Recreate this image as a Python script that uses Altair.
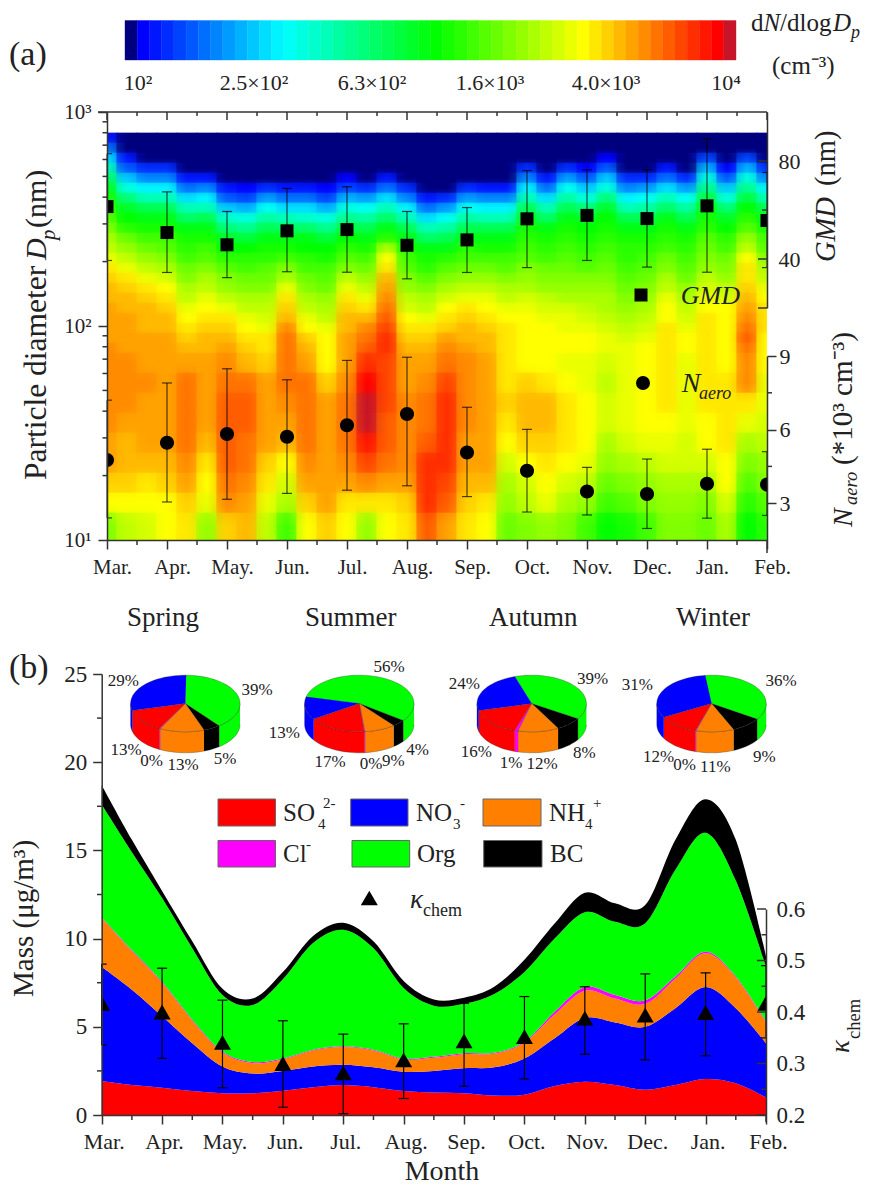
import altair as alt
import pandas as pd
import numpy as np

FONT = "Liberation Serif"
INK = "#222222"
O = 8  # page margin
W, H = 856, 1179

months = ["Mar.", "Apr.", "May.", "Jun.", "Jul.", "Aug.", "Sep.", "Oct.", "Nov.", "Dec.", "Jan.", "Feb."]
month_idx = list(range(12))

# Panel (a): GMD (nm) and Naero (10^3 cm-3) with error limits
gmd = [61.4, 50.8, 45.8, 51.5, 52.0, 45.6, 47.8, 56.4, 57.8, 56.5, 61.7, 55.7]
gmd_hi = [83.0, 67.4, 59.4, 68.8, 69.5, 59.4, 61.0, 76.1, 76.4, 76.5, 89.1, 75.3]
gmd_lo = [39.4, 34.5, 32.4, 34.8, 34.6, 31.9, 34.5, 36.5, 39.4, 36.7, 34.6, 36.5]
naero = [4.76, 5.46, 5.82, 5.71, 6.18, 6.64, 5.07, 4.32, 3.48, 3.37, 3.79, 3.76]
naero_hi = [7.2, 7.90, 8.48, 8.03, 8.82, 8.95, 6.91, 6.01, 4.46, 4.80, 5.20, 5.1]
naero_lo = [2.4, 3.05, 3.16, 3.40, 3.53, 3.71, 3.27, 2.64, 2.52, 1.97, 2.39, 2.5]

# Panel (a) contour: colour level (0-49) per column (every third of a month), top to bottom
heat = [
 [2,6,11,16,20,24,26,27,29,31,33,34,36,38,39,40,40,41,41,41,41,42,42,42,42,42,41,41,39,37,31],
 [0,0,2,5,10,14,19,23,25,27,30,32,34,36,38,39,40,40,41,41,41,41,42,42,42,41,40,40,39,37,34],
 [0,0,0,3,7,12,16,21,24,26,28,30,32,34,36,38,39,40,40,40,41,41,41,42,41,41,41,40,38,37,35],
 [0,0,0,3,7,12,16,21,24,26,28,29,31,33,35,37,38,39,40,40,41,41,41,41,41,41,41,40,39,37,37],
 [0,0,0,0,2,6,11,16,20,24,26,27,28,30,31,33,34,36,37,38,39,40,41,43,43,43,43,42,41,39,38],
 [0,0,0,0,2,7,12,16,21,24,26,28,29,31,33,34,36,37,38,39,40,40,41,41,41,41,40,38,37,36,32],
 [0,0,0,0,0,2,5,10,15,19,23,25,27,29,31,32,34,36,38,39,40,41,42,43,44,44,44,44,43,42,39],
 [0,0,0,0,0,1,4,9,14,18,22,25,27,28,30,31,33,34,36,37,38,39,40,43,44,44,43,43,42,41,40],
 [0,0,0,0,0,3,8,13,17,21,24,26,27,29,30,31,33,34,35,36,38,38,39,41,41,41,41,39,38,36,34],
 [0,0,0,0,0,2,6,11,16,20,24,26,28,31,33,36,38,39,40,42,43,43,43,43,42,41,40,37,35,33,28],
 [0,0,0,0,0,2,6,11,15,20,24,25,27,28,30,31,33,34,36,37,39,40,41,43,43,43,43,42,41,39,37],
 [0,0,0,0,0,1,4,9,14,18,22,25,26,28,29,30,32,33,34,36,37,37,37,39,41,41,41,41,41,41,39],
 [0,0,0,0,1,4,9,14,18,22,25,27,29,31,34,36,38,39,40,40,41,41,41,42,43,43,43,42,41,38,37],
 [0,0,0,0,0,3,8,13,17,21,24,26,28,30,32,34,36,38,40,42,43,44,46,48,49,49,47,45,42,38,32],
 [0,0,0,0,2,6,11,16,20,24,27,33,37,38,40,41,42,43,44,45,46,46,45,45,45,44,44,43,41,38,37],
 [0,0,0,0,0,3,7,12,16,21,24,26,28,29,31,32,34,35,37,38,39,40,41,41,42,42,42,42,41,39,38],
 [0,0,0,0,0,0,2,6,11,16,20,24,26,27,29,31,33,34,36,38,39,40,41,42,43,43,44,46,46,46,44],
 [0,0,0,0,0,0,3,8,13,17,21,24,27,29,31,33,35,37,38,39,41,42,43,45,46,46,46,46,45,44,41],
 [0,0,0,0,0,3,8,13,17,21,24,27,28,30,32,34,36,38,39,40,40,41,42,42,42,42,41,41,40,39,38],
 [0,0,0,0,0,2,7,12,16,21,24,26,28,30,32,34,36,37,38,39,40,40,41,41,41,41,41,41,40,38,37],
 [0,0,0,0,0,2,7,12,16,21,24,26,28,29,31,33,34,36,37,38,38,38,38,38,39,38,37,35,33,32,30],
 [0,0,0,3,7,12,16,21,24,26,27,28,29,31,32,33,35,36,37,37,37,37,37,39,40,40,39,37,35,34,31],
 [0,0,0,0,2,6,11,16,20,24,26,27,28,30,31,32,34,35,36,37,37,37,37,38,40,40,39,38,37,36,32],
 [0,0,0,3,8,13,17,21,24,26,27,28,29,30,31,32,33,35,36,36,37,37,36,37,38,38,38,37,35,33,31],
 [0,0,0,1,5,10,14,19,23,25,26,27,28,29,31,32,33,34,35,36,37,37,36,36,37,37,37,36,34,32,28],
 [0,0,1,5,10,14,19,23,25,26,27,28,29,30,31,32,33,33,34,35,36,36,35,34,35,35,33,32,30,28,25],
 [0,0,0,0,3,7,12,16,21,24,26,27,27,28,29,30,31,32,33,34,35,36,36,36,36,36,35,33,31,29,26],
 [0,0,0,0,3,8,13,17,21,24,26,27,28,29,30,31,32,33,34,35,36,37,37,37,37,37,36,34,32,31,28],
 [0,0,0,2,6,11,16,20,24,26,27,28,30,31,33,34,36,37,37,38,38,38,38,38,38,37,36,35,33,32,31],
 [0,0,0,0,3,8,13,17,21,24,26,27,28,29,30,32,33,34,35,36,37,37,36,36,36,36,35,35,33,32,31],
 [0,0,4,9,14,18,22,25,26,27,29,30,31,32,34,35,36,37,38,38,38,38,38,38,38,37,37,35,33,31,30],
 [0,0,0,1,5,10,14,19,23,25,27,28,30,31,32,34,35,37,37,37,37,37,37,38,38,38,38,37,37,35,33],
 [0,0,4,9,14,18,22,25,27,29,32,34,37,38,38,39,40,41,42,43,44,43,42,42,38,36,33,31,29,27,25],
 [0,0,0,3,7,12,16,21,24,26,28,29,31,33,34,36,37,38,38,38,37,37,37,36,36,35,34,32,31,29,27],
]
# Row edges of the contour (nm): 22 fine rows, then coarser ones
row_edges = [800 * 10 ** (-k * 10 / 214) for k in range(23)] + [800 * 10 ** (-(220 + 20 * k) / 214) for k in range(1, 9)] + [10]

# Colour scale
levels = list(range(50))
anchors = [(1, (0, 0, 255)), (12.5, (0, 255, 255)), (25, (0, 255, 0)), (37, (255, 255, 0)), (48, (255, 0, 0))]
def level_hex(l):
    if l == 0:
        return "#00007f"
    if l == 49:
        return "#c81428"
    for (a, ca), (b, cb) in zip(anchors, anchors[1:]):
        if a <= l <= b:
            t = (l - a) / (b - a)
            c = [round(ca[i] + (cb[i] - ca[i]) * t) for i in range(3)]
            return "#%02x%02x%02x" % tuple(c)
palette = [level_hex(l) for l in levels]
cbar_labels = ["10²", "2.5×10²", "6.3×10²", "1.6×10³", "4.0×10³", "10⁴"]
cbar_label_x = [138, 254, 372, 490, 606, 726]

# Panel (b): cumulative mass boundaries, every half month (ug/m3)
half_months = [i / 2 for i in range(23)]
so4_top = [1.93, 1.7, 1.55, 1.36, 1.23, 1.23, 1.38, 1.58, 1.7, 1.58, 1.36, 1.27, 1.23, 1.1, 1.15, 1.64, 1.89, 1.7, 1.43, 1.7, 2.04, 1.8, 1.0]
no3_top = [8.4, 7.1, 5.6, 4.07, 2.75, 2.35, 2.5, 2.75, 2.85, 2.7, 2.45, 2.5, 2.65, 2.7, 3.2, 4.35, 5.5, 5.25, 5.0, 6.05, 7.25, 6.05, 4.07]
cl_top = [11.2, 9.35, 7.55, 5.4, 3.6, 3.0, 3.2, 3.7, 3.9, 3.7, 3.2, 3.3, 3.5, 3.53, 4.15, 5.85, 7.25, 6.8, 6.5, 7.85, 9.25, 7.85, 5.3]
nh4_top = [11.15, 9.3, 7.5, 5.35, 3.55, 2.95, 3.15, 3.65, 3.85, 3.65, 3.15, 3.25, 3.45, 3.48, 4.1, 5.7, 7.05, 6.6, 6.3, 7.73, 9.17, 7.8, 5.25]
org_top = [17.6, 14.9, 12.3, 9.45, 6.8, 6.24, 7.7, 9.75, 10.5, 9.45, 7.2, 6.2, 6.3, 6.86, 8.1, 10.0, 11.5, 10.95, 10.87, 13.9, 16.0, 13.3, 8.4]
bc_top = [18.7, 15.6, 12.7, 9.85, 7.15, 6.6, 8.1, 10.15, 10.9, 9.85, 7.6, 6.55, 6.65, 7.27, 8.8, 10.85, 12.6, 12.0, 11.9, 15.6, 17.9, 15.6, 9.0]

kappa = [.417, .40, .341, .30, .282, .307, .344, .352, .388, .394, .399, .417]
kappa_hi = [.493, .485, .423, .383, .357, .377, .417, .43, .449, .474, .476, .49]
kappa_lo = [.336, .31, .253, .215, .2025, .232, .256, .27, .318, .307, .315, .35]

# Pies: Org, BC, NH4, Cl, SO4, NO3 (%), clockwise from the given start angle
species = ["Org", "BC", "NH4", "Cl", "SO4", "NO3"]
species_color = {"SO4": "#ff0000", "NO3": "#0000ff", "NH4": "#ff8000", "Cl": "#ff00ff", "Org": "#00ff00", "BC": "#000000"}
pie_values = [[39, 5, 13, 0, 13, 29], [56, 4, 9, 0, 17, 13], [39, 8, 12, 1, 16, 24], [36, 9, 11, 0, 12, 31]]
pie_start = [0, -77, -18, -7.4]
pie_cx = [185.3, 359.3, 531.7, 711.5]
pie_cy, pie_rx, pie_ry, pie_depth = 703.5, 54.7, 28.3, 21
pie_text = ["29%", "39%", "13%", "0%", "13%", "5%", "56%", "13%", "17%", "0%", "9%", "4%",
            "24%", "39%", "16%", "1%", "12%", "8%", "31%", "36%", "12%", "0%", "11%", "9%"]
pie_text_x = [123.3, 257, 126, 151.7, 183, 225, 389, 284.3, 330, 371, 393.3, 417.7,
              464.3, 592.7, 476.3, 511, 542, 584.3, 637.3, 781, 658.7, 684.7, 715.3, 764.3]
pie_text_y = [680.7, 690, 750, 760.7, 765, 759.3, 667.3, 733.3, 762.3, 763.7, 760.7, 750,
              684.3, 679.3, 751.7, 762.7, 764, 753.3, 685, 681.3, 757.3, 765, 766.7, 757.3]

# ---------------- scales ----------------
xa = alt.Scale(domain=[0, 11], range=[107 - O, 767 - O], nice=False, zero=False)
ya = alt.Scale(type="log", domain=[10, 1000], range=[540 - O, 112 - O], nice=False)
y_gmd = alt.Scale(domain=[20, 100], range=[308 - O, 112 - O], nice=False, zero=False)
y_nae = alt.Scale(domain=[1.5, 9], range=[540 - O, 356 - O], nice=False, zero=False)
xb = alt.Scale(domain=[0, 11], range=[101.7 - O, 766 - O], nice=False, zero=False)
yb = alt.Scale(domain=[0, 25], range=[1115 - O, 674 - O], nice=False, zero=False)
y_kap = alt.Scale(domain=[0.2, 0.6], range=[1115 - O, 909 - O], nice=False, zero=False)
xc = alt.Scale(type="log", domain=[100, 10000], range=[125 - O, 736 - O], nice=False)
level_scale = alt.Scale(domain=levels, range=palette)
id_x = alt.Scale(domain=[0, W], range=[0, W], nice=False, zero=False)
id_y = alt.Scale(domain=[0, H], range=[0, H], nice=False, zero=False)

AX = dict(labelFont=FONT, labelColor=INK, domainColor="#333333", domainWidth=1.5,
          tickColor="#333333", tickWidth=1.5, grid=False, title=None, zindex=1,
          labelFlush=False, labelOverlap=False, labelBound=False)
month_expr = "['" + "','".join(months) + "'][datum.value]"

layers = []

def txt(s, x, y, size=22, style="normal", angle=0, align="left", baseline="alphabetic"):
    return alt.Chart(pd.DataFrame({"t": [s]})).mark_text(
        font=FONT, fontSize=size, fontStyle=style, angle=angle, align=align, baseline=baseline, color=INK
    ).encode(x=alt.value(x - O), y=alt.value(y - O), text="t:N")

def hticks(vals, scale, x0, x1):
    return alt.Chart(pd.DataFrame({"v": vals})).mark_rule(color="#333333", strokeWidth=1.5).encode(
        y=alt.Y("v:Q", scale=scale, axis=None), x=alt.value(x0 - O), x2=alt.value(x1 - O))

def vticks(vals, scale, y0, y1):
    return alt.Chart(pd.DataFrame({"v": vals})).mark_rule(color="#333333", strokeWidth=1.5).encode(
        x=alt.X("v:Q", scale=scale, axis=None), y=alt.value(y0 - O), y2=alt.value(y1 - O))

def line_px(x0, y0, x1, y1):
    return alt.Chart(pd.DataFrame({"a": [0]})).mark_rule(color="#333333", strokeWidth=1.5).encode(
        x=alt.value(x0 - O), x2=alt.value(x1 - O), y=alt.value(y0 - O), y2=alt.value(y1 - O))

def errbars(vals_hi, vals_lo, xs, ys, opacity, cap=5):
    df = pd.DataFrame({"m": month_idx, "hi": vals_hi, "lo": vals_lo})
    out = [alt.Chart(df).mark_rule(color="black", strokeWidth=1.2, opacity=opacity).encode(
        x=alt.X("m:Q", scale=xs, axis=None), y=alt.Y("lo:Q", scale=ys, axis=None), y2="hi:Q")]
    for f in ("hi", "lo"):
        for part, kw in ((df.iloc[1:11], dict(xOffset=-cap, x2Offset=cap)), (df.iloc[:1], dict(xOffset=0, x2Offset=cap)),
                         (df.iloc[11:], dict(xOffset=-cap, x2Offset=0))):
            out.append(alt.Chart(part).mark_rule(color="black", strokeWidth=1.2, opacity=opacity, **kw).encode(
                x=alt.X("m:Q", scale=xs, axis=None), x2="m:Q", y=alt.Y(f + ":Q", scale=ys, axis=None)))
    return out

def markers(vals, xs, ys, paths, size):
    df = pd.DataFrame({"m": month_idx, "v": vals, "s": ["r"] + ["f"] * 10 + ["l"]})
    return alt.Chart(df).mark_point(filled=True, size=size, color="black", opacity=1).encode(
        x=alt.X("m:Q", scale=xs, axis=None), y=alt.Y("v:Q", scale=ys, axis=None),
        shape=alt.Shape("s:N", scale=alt.Scale(domain=["f", "r", "l"], range=paths), legend=None))

SQ = ["M-1,-1L1,-1L1,1L-1,1Z", "M0,-1L1,-1L1,1L0,1Z", "M-1,-1L0,-1L0,1L-1,1Z"]
CI = ["M-1,0A1,1 0 1 1 1,0A1,1 0 1 1 -1,0Z", "M0,-1A1,1 0 0 1 0,1Z", "M0,-1A1,1 0 0 0 0,1Z"]
TR = ["M0,-0.87L1,0.87L-1,0.87Z", "M0,-0.87L1,0.87L0,0.87Z", "M0,-0.87L0,0.87L-1,0.87Z"]

# ---------------- colour bar ----------------
cb = pd.DataFrame({"level": levels, "a": [100 * 100 ** (l / 50) for l in levels], "b": [100 * 100 ** ((l + 1) / 50) for l in levels]})
layers.append(alt.Chart(cb).mark_rect(strokeWidth=0.4).encode(
    x=alt.X("a:Q", scale=xc, axis=None), x2="b:Q", y=alt.value(20.5 - O), y2=alt.value(60 - O),
    fill=alt.Fill("level:O", scale=level_scale, legend=None), stroke=alt.Stroke("level:O", scale=level_scale, legend=None)))
for s, x in zip(cbar_labels, cbar_label_x):
    layers.append(txt(s, x, 90, 22, align="center"))
for s, x, y, sz, st in [("d", 751, 31, 25, "normal"), ("N", 763.5, 31, 25, "italic"), ("/dlog", 780, 31, 25, "normal"),
                        ("D", 833, 31, 25, "italic"), ("p", 851, 38, 18, "italic")]:
    layers.append(txt(s, x, y, sz, st))
layers.append(txt("(cm⁻³)", 772, 74, 25))
layers.append(txt("(a)", 9, 65, 34))

# ---------------- panel (a) ----------------
# The contour is painted from the typed nodes with the renderer's own linear gradients:
# one vertical-gradient rectangle per column, and over it one horizontal-gradient band per row.
log_top = np.log10(row_edges[0])
row_mid = [np.sqrt(row_edges[j] * row_edges[j + 1]) for j in range(len(row_edges) - 1)]
row_off = [(log_top - np.log10(m)) / (log_top - 1) for m in row_mid]
for i, col in enumerate(heat):
    frame = pd.DataFrame({"x0": [max(i / 3 - 1 / 6 - 0.01, 0)], "x1": [min(i / 3 + 1 / 6 + 0.01, 11)],
                          "y0": [row_edges[0]], "y1": [10]})
    grad = alt.Gradient(gradient="linear", x1=0, x2=0, y1=0, y2=1,
                        stops=[alt.GradientStop(offset=float(f), color=palette[v]) for f, v in zip(row_off, col)])
    layers.append(alt.Chart(frame).mark_rect(fill=grad).encode(
        x=alt.X("x0:Q", scale=xa, axis=None), x2="x1:Q", y=alt.Y("y0:Q", scale=ya, axis=None), y2="y1:Q"))
for j in range(len(row_mid)):
    frame = pd.DataFrame({"x0": [0], "x1": [11], "y0": [row_edges[j]], "y1": [row_edges[j + 1]]})
    grad = alt.Gradient(gradient="linear", x1=0, x2=1, y1=0, y2=0,
                        stops=[alt.GradientStop(offset=i / 33, color=palette[heat[i][j]]) for i in range(34)])
    layers.append(alt.Chart(frame).mark_rect(fill=grad, opacity=0.55).encode(
        x=alt.X("x0:Q", scale=xa, axis=None), x2="x1:Q", y=alt.Y("y0:Q", scale=ya, axis=None), y2="y1:Q"))
layers += errbars(gmd_hi, gmd_lo, xa, y_gmd, 0.7)
layers += errbars(naero_hi, naero_lo, xa, y_nae, 0.7)
layers.append(markers(gmd, xa, y_gmd, SQ, 169))
layers.append(markers(naero, xa, y_nae, CI, 196))
# axes of (a)
axis_df = pd.DataFrame({"m": month_idx, "v": [10] * 12})
layers.append(alt.Chart(axis_df).mark_point(opacity=0).encode(
    x=alt.X("m:Q", scale=xa, axis=alt.Axis(orient="bottom", offset=(540 - O) - H, values=month_idx, tickSize=9,
                                           labelExpr=month_expr, labelFontSize=21, labelPadding=7, labelOffset=5, **AX)),
    y=alt.Y("v:Q", scale=ya, axis=alt.Axis(orient="left", offset=-(107 - O), values=[10, 100, 1000], tickSize=9,
                                           labelExpr="datum.value==10?'10¹':datum.value==100?'10²':'10³'",
                                           labelFontSize=21, labelPadding=7, **AX))))
layers.append(vticks([i + 0.5 for i in range(11)], xa, 540, 545))
layers.append(vticks(month_idx, xa, 112, 120))
layers.append(vticks([i + 0.5 for i in range(11)], xa, 112, 116))
layers.append(line_px(98, 112, 767, 112))
layers.append(hticks([20, 30, 40, 50, 60, 70, 80, 90, 200, 300, 400, 500, 600, 700, 800, 900], ya, 102.5, 107))
layers.append(line_px(767, 540, 767, 553))
# GMD axis
layers.append(alt.Chart(pd.DataFrame({"m": [0], "v": [40]})).mark_point(opacity=0).encode(
    y=alt.Y("v:Q", scale=y_gmd, axis=alt.Axis(orient="right", offset=(767 - O) - W, values=[80, 40], ticks=False,
                                              labelFontSize=22, labelPadding=11, **AX))))
layers.append(hticks([80, 40, 20], y_gmd, 758, 767))
layers.append(hticks([60], y_gmd, 762, 767))
# Naero axis
layers.append(alt.Chart(pd.DataFrame({"m": [0], "v": [6]})).mark_point(opacity=0).encode(
    y=alt.Y("v:Q", scale=y_nae, axis=alt.Axis(orient="right", offset=(767 - O) - W, values=[9, 6, 3], tickSize=9,
                                              labelFontSize=22, labelPadding=3, **AX))))
layers.append(hticks([7.5, 4.5], y_nae, 767, 772))
# texts of (a)
layers.append(txt("Particle diameter", 46, 480, 31.5, angle=270))
layers.append(txt("D", 46, 260, 30, "italic", angle=270))
layers.append(txt("p", 55, 240, 21, "italic", angle=270))
layers.append(txt("(nm)", 46, 228, 30, angle=270))
layers.append(txt("GMD", 835, 262, 28.5, "italic", angle=270))
layers.append(txt("(nm)", 835, 186, 28.5, angle=270))
layers.append(txt("N", 851.5, 527, 28, "italic", angle=270))
layers.append(txt("aero", 857, 505, 18.5, "italic", angle=270))
layers.append(txt("(*10³ cm⁻³)", 851.5, 465, 29, angle=270))
layers.append(alt.Chart(pd.DataFrame({"a": [0]})).mark_point(filled=True, shape="square", size=169, color="black", opacity=1).encode(
    x=alt.value(641 - O), y=alt.value(295 - O)))
layers.append(alt.Chart(pd.DataFrame({"a": [0]})).mark_point(filled=True, shape="circle", size=196, color="black", opacity=1).encode(
    x=alt.value(643 - O), y=alt.value(383 - O)))
layers.append(txt("GMD", 680.7, 304, 26, "italic"))
layers.append(txt("N", 681.7, 392, 28, "italic"))
layers.append(txt("aero", 699, 399, 18, "italic"))
for s, x in [("Spring", 127), ("Summer", 305), ("Autumn", 489), ("Winter", 676)]:
    layers.append(txt(s, x, 626, 27))

# ---------------- panel (b) ----------------
layers.append(txt("(b)", 9, 678, 34))
mdf = pd.DataFrame({"m": half_months, "zero": [0] * 23, "so4": so4_top, "no3": no3_top, "nh4": nh4_top,
                    "cl": cl_top, "org": org_top, "bc": bc_top})
for lo, hi, sp in [("zero", "so4", "SO4"), ("so4", "no3", "NO3"), ("no3", "nh4", "NH4"), ("nh4", "cl", "Cl"), ("cl", "org", "Org"), ("org", "bc", "BC")]:
    layers.append(alt.Chart(mdf).mark_area(interpolate="cardinal", color=species_color[sp], opacity=1).encode(
        x=alt.X("m:Q", scale=xb, axis=None), y=alt.Y(lo + ":Q", scale=yb, axis=None), y2=hi + ":Q"))
layers += errbars(kappa_hi, kappa_lo, xb, y_kap, 1.0)
layers.append(markers(kappa, xb, y_kap, TR, 289))
axis_df2 = pd.DataFrame({"m": month_idx, "v": [0] * 12})
layers.append(alt.Chart(axis_df2).mark_point(opacity=0).encode(
    x=alt.X("m:Q", scale=xb, axis=alt.Axis(orient="bottom", offset=(1115 - O) - H, values=month_idx, tickSize=9,
                                           labelExpr=month_expr, labelFontSize=22, labelPadding=7, labelOffset=2, **AX)),
    y=alt.Y("v:Q", scale=yb, axis=alt.Axis(orient="left", offset=-(101.7 - O), values=[0, 5, 10, 15, 20, 25], tickSize=9,
                                           labelFontSize=23, labelPadding=6, **AX))))
layers.append(vticks([i + 0.5 for i in range(11)], xb, 1115, 1120))
layers.append(hticks([2.5, 7.5, 12.5, 17.5, 22.5], yb, 97, 101.7))
layers.append(alt.Chart(pd.DataFrame({"v": [0.4]})).mark_point(opacity=0).encode(
    y=alt.Y("v:Q", scale=y_kap, axis=alt.Axis(orient="right", offset=(766 - O) - W, values=[0.2, 0.3, 0.4, 0.5, 0.6], ticks=False,
                                              format=".1f", labelFontSize=23, labelPadding=10, **AX))))
layers.append(hticks([0.2, 0.3, 0.4, 0.5, 0.6], y_kap, 757, 766))
layers.append(hticks([0.25, 0.35, 0.45, 0.55], y_kap, 761.5, 766))
layers.append(line_px(766, 1115, 766, 1122))
# pies
def arc_pts(a0, a1):
    n = max(2, int(abs(a1 - a0) / 4) + 2)
    return np.linspace(a0, a1, n)
poly = []
pid = 0
for cx, vals, start in zip(pie_cx, pie_values, pie_start):
    total = sum(vals)
    angle = start
    wedges = []
    for sp, v in zip(species, vals):
        wedges.append((sp, angle, angle + 360 * max(v, 0.25) / total))
        angle = wedges[-1][2]
    # side walls (front half only)
    for sp, a0, a1 in wedges:
        for shift in (0, 360, -360):
            lo, hi = max(a0 + shift, 90), min(a1 + shift, 270)
            if hi > lo:
                ang = arc_pts(lo, hi)
                xs = cx + pie_rx * np.sin(np.radians(ang))
                ys = pie_cy - pie_ry * np.cos(np.radians(ang))
                px = list(xs) + list(xs[::-1])
                py = list(ys) + list(ys[::-1] + pie_depth)
                for k, (a, b) in enumerate(zip(px, py)):
                    poly.append(dict(id=pid, o=k, x=a, y=b, c=species_color[sp]))
                pid += 1
    for sp, a0, a1 in wedges:
        ang = arc_pts(a0, a1)
        px = [cx] + list(cx + pie_rx * np.sin(np.radians(ang)))
        py = [pie_cy] + list(pie_cy - pie_ry * np.cos(np.radians(ang)))
        for k, (a, b) in enumerate(zip(px, py)):
            poly.append(dict(id=pid, o=k, x=a, y=b, c=species_color[sp]))
        pid += 1
pdf = pd.DataFrame(poly)
pdf["x"] -= O
pdf["y"] -= O
layers.append(alt.Chart(pdf).mark_line(filled=True, strokeWidth=0.3, stroke="#222222").encode(
    x=alt.X("x:Q", scale=id_x, axis=None), y=alt.Y("y:Q", scale=id_y, axis=None),
    detail="id:N", order="o:Q", fill=alt.Fill("c:N", scale=None)))
ptdf = pd.DataFrame({"t": pie_text, "x": [v - O for v in pie_text_x], "y": [v - O for v in pie_text_y]})
layers.append(alt.Chart(ptdf).mark_text(font=FONT, fontSize=17, color=INK, align="center", baseline="middle").encode(
    x=alt.X("x:Q", scale=id_x, axis=None), y=alt.Y("y:Q", scale=id_y, axis=None), text="t:N"))
# legend
leg = [("SO4", 218, 275.5, 799, 826), ("NO3", 350.7, 408, 799, 826), ("NH4", 483, 541, 799, 826),
       ("Cl", 218, 275.5, 840.5, 867), ("Org", 352, 409.7, 840.5, 867), ("BC", 483.7, 542, 840.5, 867)]
for sp, x0, x1, y0, y1 in leg:
    layers.append(alt.Chart(pd.DataFrame({"a": [0]})).mark_rect(fill=species_color[sp], stroke="#666666", strokeWidth=1).encode(
        x=alt.value(x0 - O), x2=alt.value(x1 - O), y=alt.value(y0 - O), y2=alt.value(y1 - O)))
for s, x, y, sz in [("SO", 283, 821, 25), ("4", 318, 829, 15), ("2-", 323, 808, 15),
                    ("NO", 416, 821, 25), ("3", 453, 829, 15), ("-", 460, 808, 15),
                    ("NH", 549, 821, 25), ("4", 585, 829, 15), ("+", 593, 808, 15),
                    ("Cl", 283, 862, 25), ("-", 306, 849, 15),
                    ("Org", 417, 862, 25), ("BC", 550, 862, 25)]:
    layers.append(txt(s, x, y, sz))
layers.append(alt.Chart(pd.DataFrame({"a": [0]})).mark_point(filled=True, shape="triangle-up", size=289, color="black", opacity=1).encode(
    x=alt.value(369.3 - O), y=alt.value(898 - O)))
layers.append(txt("κ", 410, 908, 27, "italic"))
layers.append(txt("chem", 423, 916, 18))
# titles of (b)
layers.append(txt("Mass (μg/m³)", 33, 997, 29, angle=270))
layers.append(txt("κ", 848.7, 1053, 27, "italic", angle=270))
layers.append(txt("chem", 859.5, 1039, 18.5, angle=270))
layers.append(txt("Month", 442, 1180, 28, align="center"))

chart = alt.layer(*layers).resolve_scale(
    x="independent", y="independent", fill="independent", stroke="independent", shape="independent"
).properties(
    width=W, height=H, autosize=alt.AutoSizeParams(type="none"), padding=0, background="white"
).configure_view(stroke=None)

chart.save("out.html", embed_options={"renderer": "svg", "actions": False})
